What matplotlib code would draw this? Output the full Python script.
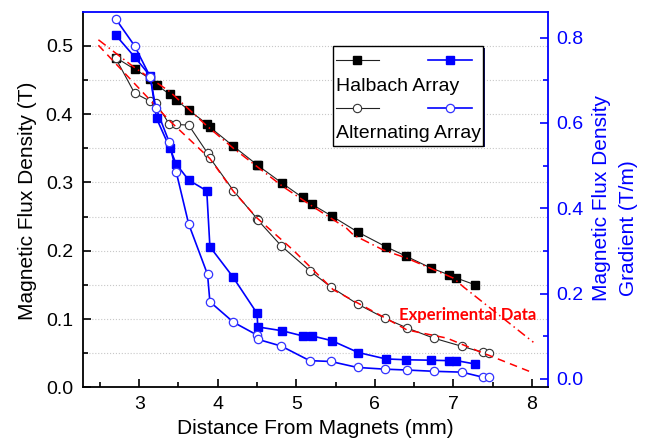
import numpy as np
import matplotlib
matplotlib.use("Agg")
import matplotlib.pyplot as plt
from matplotlib.patches import Rectangle
from matplotlib.lines import Line2D
from matplotlib.ticker import MultipleLocator

plt.rcParams['font.family'] = ['Liberation Sans', 'DejaVu Sans']

# Halbach array (squares): flux density (left axis) and gradient (right axis)
halbach_x = [2.70, 2.94, 3.14, 3.22, 3.39, 3.47, 3.63, 3.86, 3.90, 4.19, 4.50, 4.51,
             4.82, 5.08, 5.20, 5.45, 5.79, 6.14, 6.40, 6.71, 6.94, 7.04, 7.28]
halbach_b = [0.483, 0.466, 0.452, 0.443, 0.429, 0.421, 0.406, 0.386, 0.381, 0.354, 0.326, 0.325,
             0.299, 0.278, 0.268, 0.251, 0.227, 0.206, 0.192, 0.175, 0.165, 0.160, 0.150]
halbach_grad = [0.806, 0.755, 0.710, 0.611, 0.541, 0.504, 0.466, 0.441, 0.310, 0.240, 0.154, 0.122,
                0.113, 0.101, 0.101, 0.090, 0.062, 0.047, 0.045, 0.044, 0.043, 0.043, 0.035]

# Alternating array (circles)
alt_x = [2.70, 2.94, 3.14, 3.21, 3.38, 3.47, 3.63, 3.87, 3.90, 4.20, 4.50, 4.51,
         4.81, 5.17, 5.44, 5.78, 6.13, 6.41, 6.75, 7.11, 7.38, 7.46]
alt_b = [0.482, 0.431, 0.419, 0.417, 0.386, 0.385, 0.384, 0.343, 0.336, 0.288, 0.247, 0.245,
         0.207, 0.171, 0.147, 0.122, 0.101, 0.087, 0.072, 0.060, 0.051, 0.050]
alt_grad = [0.844, 0.781, 0.708, 0.636, 0.556, 0.486, 0.363, 0.245, 0.181, 0.133, 0.103, 0.093,
            0.077, 0.043, 0.041, 0.027, 0.023, 0.021, 0.018, 0.016, 0.004, 0.004]

# experimental data (red)
exp_halbach_x = [2.48, 2.92, 3.39, 3.86, 4.20, 4.83, 5.18, 5.64, 5.73, 6.11, 6.41, 7.00, 7.13, 8.02]
exp_halbach_b = [0.509, 0.470, 0.433, 0.383, 0.350, 0.294, 0.267, 0.233, 0.223, 0.201, 0.189, 0.160, 0.147, 0.066]
exp_alt_x = [2.48, 3.39, 3.90, 4.20, 4.50, 4.96, 5.47, 6.11, 6.41, 6.92, 7.34, 8.02]
exp_alt_b = [0.501, 0.390, 0.335, 0.287, 0.248, 0.201, 0.143, 0.103, 0.084, 0.072, 0.052, 0.021]

BLUE = '#0000ff'

fig = plt.figure(figsize=(6.54, 4.44), dpi=100)
ax = fig.add_axes([82.7/654, 1-387.3/444, 465.6/654, 375.3/444])
ax2 = ax.twinx()

ax.grid(True, which='both', axis='y', linestyle=':', color='#c8c8c8', lw=0.8)
ax.set_axisbelow(True)

ax.plot(halbach_x, halbach_b, color='#222222', lw=0.8, marker='s', ms=5.5, mfc='black', mec='black', zorder=3)
ax.plot(alt_x, alt_b, color='#222222', lw=0.8, marker='o', ms=6, mfc='white', mec='#333333', mew=0.8, zorder=3)
ax.plot(exp_halbach_x, exp_halbach_b, color='red', lw=1.1, linestyle=(0, (6, 2.5, 1, 2.5)), zorder=4)
ax.plot(exp_alt_x, exp_alt_b, color='red', lw=1.1, linestyle=(0, (5, 3.5)), zorder=4)

ax2.plot(halbach_x, halbach_grad, color=BLUE, lw=1.2, marker='s', ms=5.5, mfc=BLUE, mec=BLUE)
ax2.plot(alt_x, alt_grad, color=BLUE, lw=1.2, marker='o', ms=6, mfc='white', mec='#3333ff', mew=0.9)

ax.text(6.31, 0.106, "Experimental Data", color='red', fontsize=12, fontweight='bold',
        family=['Lato', 'DejaVu Sans'], va='center', ha='left')

ax.set_xlim(2.28, 8.21)
ax.set_ylim(0, 0.5497)
ax2.set_ylim(-0.0195, 0.86)

ax.xaxis.set_major_locator(MultipleLocator(1))
ax.xaxis.set_minor_locator(MultipleLocator(0.5))
ax.yaxis.set_major_locator(MultipleLocator(0.1))
ax.yaxis.set_minor_locator(MultipleLocator(0.05))
ax2.yaxis.set_major_locator(MultipleLocator(0.2))
ax2.yaxis.set_minor_locator(MultipleLocator(0.1))
ax.yaxis.set_major_formatter(plt.FormatStrFormatter('%.1f'))
ax2.yaxis.set_major_formatter(plt.FormatStrFormatter('%.1f'))

ax.tick_params(axis='both', which='major', direction='in', length=6, width=1.2, labelsize=14)
ax.tick_params(axis='both', which='minor', direction='in', length=3.5, width=1.2)
ax.tick_params(axis='x', pad=6)
ax.tick_params(axis='y', pad=7)
ax2.tick_params(axis='y', which='major', direction='in', length=6, width=1.2, labelsize=14,
                colors=BLUE, pad=6)
ax2.tick_params(axis='y', which='minor', direction='in', length=3.5, width=1.2, colors=BLUE)

for side in ['left', 'bottom']:
    ax2.spines[side].set_linewidth(1.3)
    ax2.spines[side].set_color('black')
for side in ['right', 'top']:
    ax2.spines[side].set_linewidth(1.3)
    ax2.spines[side].set_color(BLUE)
for sp in ax.spines.values():
    sp.set_visible(False)

ax.set_xlabel("Distance From Magnets (mm)", fontsize=15)
ax.xaxis.set_label_coords(0.5, -0.0845)
ax.set_ylabel("Magnetic Flux Density (T)", fontsize=15)
ax.yaxis.set_label_coords(-0.098, 0.497)
ax2.text(1.1147, 0.5057, "Magnetic Flux Density", rotation=90, color=BLUE, fontsize=15,
         ha='center', va='center', transform=ax2.transAxes)
ax2.text(1.1718, 0.423, "Gradient (T/m)", rotation=90, color=BLUE, fontsize=15,
         ha='center', va='center', transform=ax2.transAxes)

# legend box drawn by hand (Origin style)
tr = ax2.transAxes
ax2.add_patch(Rectangle((0.541, 0.639), 0.322, 0.265, transform=tr, facecolor='#101060',
                        edgecolor='none', clip_on=False, zorder=9))
ax2.add_patch(Rectangle((0.538, 0.644), 0.322, 0.265, transform=tr, facecolor='white',
                        edgecolor='black', lw=1.0, clip_on=False, zorder=10))
ax2.add_line(Line2D([0.544, 0.637], [0.872, 0.872], transform=tr, color='#222222', lw=0.8, zorder=11))
ax2.add_line(Line2D([0.590], [0.872], transform=tr, marker='s', ms=5.5, color='black', zorder=11))
ax2.add_line(Line2D([0.742, 0.8355], [0.872, 0.872], transform=tr, color=BLUE, lw=1.2, zorder=11))
ax2.add_line(Line2D([0.7895], [0.872], transform=tr, marker='s', ms=5.5, color=BLUE, zorder=11))
ax2.add_line(Line2D([0.544, 0.637], [0.745, 0.745], transform=tr, color='#222222', lw=0.8, zorder=11))
ax2.add_line(Line2D([0.590], [0.745], transform=tr, marker='o', ms=6, mfc='white', mec='#333333',
                    mew=0.8, zorder=11))
ax2.add_line(Line2D([0.742, 0.8355], [0.745, 0.745], transform=tr, color=BLUE, lw=1.2, zorder=11))
ax2.add_line(Line2D([0.7895], [0.745], transform=tr, marker='o', ms=6, mfc='white', mec='#3333ff',
                    mew=0.9, zorder=11))
ax2.text(0.544, 0.790, "Halbach Array", transform=tr, fontsize=14, va='baseline', ha='left', zorder=12)
ax2.text(0.544, 0.6635, "Alternating Array", transform=tr, fontsize=14, va='baseline', ha='left', zorder=12)

fig.savefig("out.png", dpi=100)
